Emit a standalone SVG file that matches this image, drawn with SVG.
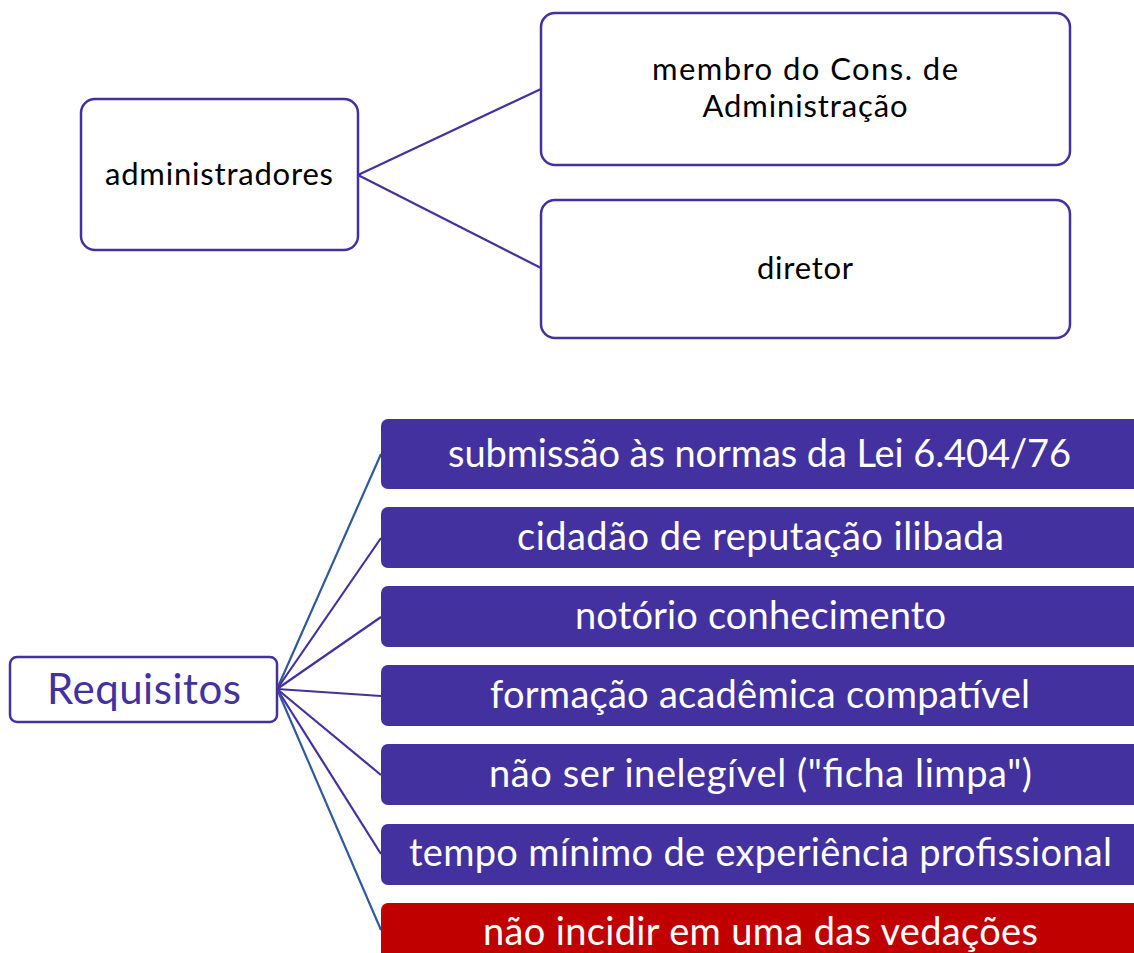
<svg xmlns="http://www.w3.org/2000/svg" width="1134" height="953" viewBox="0 0 1134 953">
<style>
.ob{fill:#fff;stroke:#4331A0;stroke-width:2.5}
.t{font-family:Lato,"Liberation Sans",sans-serif;font-size:31px;fill:#000;text-anchor:middle}
.fb{fill:#4331A0}
.rb{fill:#C00000}
.w{font-family:Lato,"Liberation Sans",sans-serif;font-size:38px;fill:#fff;text-anchor:middle}
.cp{stroke:#4331A0;stroke-width:2.2;fill:none}
.cb{stroke:#2F5B9A;stroke-width:2.2;fill:none}
</style>
<rect width="1134" height="953" fill="#fff"/>
<g id="connectors">
<line class="cp" x1="358" y1="175" x2="541" y2="89" stroke-width="2.6"/>
<line class="cp" x1="358" y1="175" x2="541" y2="268" stroke-width="2.6"/>
<line class="cb" x1="277" y1="689" x2="381" y2="454"/>
<line class="cp" x1="277" y1="689" x2="381" y2="538"/>
<line class="cp" x1="277" y1="689" x2="381" y2="617"/>
<line class="cp" x1="277" y1="689" x2="381" y2="696"/>
<line class="cp" x1="277" y1="689" x2="381" y2="775"/>
<line class="cp" x1="277" y1="689" x2="381" y2="854"/>
<line class="cb" x1="277" y1="689" x2="381" y2="930"/>
</g>
<g id="administradores">
<rect class="ob" x="81" y="99" width="277" height="151" rx="14"/>
<text class="t" x="219" y="185" textLength="228" lengthAdjust="spacing">administradores</text>
</g>
<g id="membro">
<rect class="ob" x="541" y="13" width="529" height="152" rx="14"/>
<text class="t" x="805" y="80" textLength="306" lengthAdjust="spacing">membro do Cons. de</text>
<text class="t" x="805" y="117" textLength="205" lengthAdjust="spacing">Administração</text>
</g>
<g id="diretor">
<rect class="ob" x="541" y="200" width="529" height="138" rx="14"/>
<text class="t" x="805" y="279" textLength="96" lengthAdjust="spacing">diretor</text>
</g>
<g id="requisitos">
<rect x="10" y="657" width="267" height="65" rx="7" fill="#fff" stroke="#4331A0" stroke-width="2.5"/>
<text x="144" y="704" font-family="Lato,'Liberation Sans',sans-serif" font-size="42" fill="#4331A0" text-anchor="middle" textLength="194" lengthAdjust="spacing">Requisitos</text>
</g>
<g id="r1">
<rect class="fb" x="381" y="419" width="760" height="70" rx="7"/>
<text class="w" x="759.5" y="467" textLength="623" lengthAdjust="spacing">submissão às normas da Lei 6.404/76</text>
</g>
<g id="r2">
<rect class="fb" x="381" y="507" width="760" height="61" rx="7"/>
<text class="w" x="760.5" y="550" textLength="487" lengthAdjust="spacing">cidadão de reputação ilibada</text>
</g>
<g id="r3">
<rect class="fb" x="381" y="586" width="760" height="61" rx="7"/>
<text class="w" x="760.5" y="629" textLength="371" lengthAdjust="spacing">notório conhecimento</text>
</g>
<g id="r4">
<rect class="fb" x="381" y="665" width="760" height="61" rx="7"/>
<text class="w" x="760" y="708" textLength="540" lengthAdjust="spacing">formação acadêmica compatível</text>
</g>
<g id="r5">
<rect class="fb" x="381" y="744" width="760" height="61" rx="7"/>
<text class="w" x="760.5" y="787" textLength="543" lengthAdjust="spacing">não ser inelegível ("ficha limpa")</text>
</g>
<g id="r6">
<rect class="fb" x="381" y="824" width="760" height="61" rx="7"/>
<text class="w" x="760.5" y="866" textLength="703" lengthAdjust="spacing">tempo mínimo de experiência profissional</text>
</g>
<g id="r7">
<rect class="rb" x="381" y="903" width="760" height="61" rx="7"/>
<text class="w" x="760.5" y="945" textLength="555" lengthAdjust="spacing">não incidir em uma das vedações</text>
</g>
</svg>
